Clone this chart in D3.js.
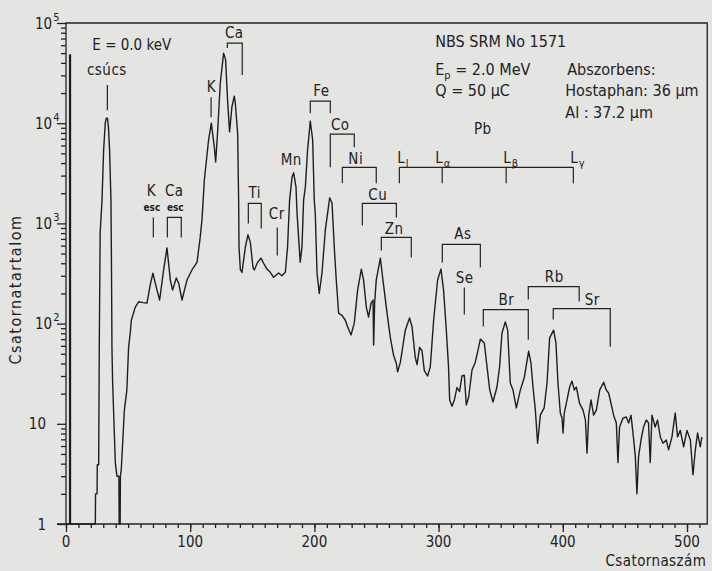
<!DOCTYPE html>
<html>
<head>
<meta charset="utf-8">
<script src="https://d3js.org/d3.v7.min.js"></script>
<style>
  body { margin: 0; background: #e4e4e2; }
  svg { display: block; font-family: "DejaVu Sans Condensed", "DejaVu Sans", sans-serif; }
  .lbl { font-size: 15px; fill: #222; }
  .small { font-size: 10px; font-weight: bold; fill: #222; }
  .axis path, .axis line { stroke: #222; stroke-width: 1.3; }
</style>
</head>
<body>
<script>
// ---------------------- DATA ----------------------

// spectrum: channel number and counts per channel
const channels = [
  0, 2.9, 2.9, 3.6, 3.6, 23.6, 23.8, 25, 25.2, 26.3, 26.8, 27.5, 29, 30.3, 31.6, 32.4, 33.4, 34.2, 35.1, 36.2,
  36.6, 37, 37.5, 39.7, 41, 42.6, 42.8, 43.6, 43.8, 44.5, 47, 49, 50.4, 51.8, 52.6, 55.8, 58.5, 62, 65.2, 68,
  70, 72.7, 75.4, 78.6, 81.3, 84, 85.8, 88.8, 90.7, 93.4, 97.4, 101.4, 104.1, 105.5, 108, 109.5, 111.4, 114.8, 117, 119.4,
  120.5, 122, 124.2, 126.9, 128.5, 130.1, 131.7, 133.6, 135.5, 136.3, 138.2, 139, 139.3, 140.4, 141.7, 144.4, 146.5, 148.4, 150.6, 151.6,
  154.3, 157, 159.1, 161.8, 164.5, 167.1, 169.3, 171.2, 173.9, 176.6, 178.4, 180, 182, 183.3, 185.2, 186, 187.3, 188.6, 190, 191.3,
  192.7, 194.5, 196.7, 198.6, 199.9, 200.7, 202.1, 203.9, 206.1, 208.8, 212.3, 214.2, 216, 217.6, 219.5, 222.2, 224.9, 226.7, 229.5, 232.1,
  234.8, 237.8, 239.6, 241.8, 243.6, 245.6, 247.2, 247.7, 248.5, 249.8, 253.1, 255.2, 258.5, 261.1, 263.8, 266, 267, 269.2, 273.2, 276.6,
  278.6, 281.2, 282.6, 284.7, 286.6, 288.5, 291.1, 293.3, 296, 299.2, 301.9, 304, 306.2, 308, 308.9, 310.8, 312.7, 314.8, 316.9, 318.8,
  320.7, 322.3, 324.2, 326.9, 329.5, 331.7, 333.6, 336.8, 339, 341.1, 343.8, 347, 349.1, 351, 353.7, 355.6, 357.7, 359.9, 362.6, 365.8,
  369, 372.5, 374.4, 376, 377.9, 379.7, 381.9, 385, 387.3, 389.4, 392.6, 394.5, 396.1, 398, 399.4, 400.2, 401.2, 403.4, 405.5, 407.4,
  409.3, 410.9, 413.5, 416.3, 418.2, 419.5, 420.9, 422.7, 424.8, 427, 429.7, 432.9, 435, 436.9, 438.8, 440.9, 443.1, 444.4, 445.7, 448.5,
  451.1, 453, 454.9, 457.1, 458.4, 459.7, 461, 463, 465, 467.2, 469, 470.4, 471.8, 474.4, 476.3, 478.5, 480.7, 483.3, 485.2, 487.9,
  490.5, 492.4, 494.6, 497.3, 500, 502.7, 504.8, 506.7, 508.5, 510.7, 512
];
const counts = [
  1, 1, 48000, 48000, 1, 1, 2, 2, 3.9, 3.9, 60, 800, 1700, 5400, 10000, 11200, 11200, 9000, 5400, 1700,
  400, 58, 27, 4.1, 3, 3, 1, 1, 3, 3.5, 13.7, 21.7, 58, 82, 108, 146, 165, 162, 160, 250,
  318, 230, 172, 343, 570, 272, 216, 285, 253, 172, 272, 343, 385, 410, 717, 1090, 2720, 6800, 10000, 5800,
  4100, 7900, 25000, 50000, 43000, 16800, 8200, 14600, 18600, 16000, 7900, 1700, 580, 343, 325, 580, 770, 650, 360, 343,
  410, 450, 400, 350, 325, 290, 305, 320, 300, 325, 580, 1700, 2900, 3200, 2300, 1270, 717, 410, 580, 1700,
  2300, 5400, 10500, 6800, 1700, 1270, 320, 200, 320, 860, 1800, 1600, 580, 272, 127, 121, 108, 93, 77, 101,
  216, 350, 272, 146, 116, 160, 172, 61, 160, 272, 450, 272, 127, 73, 48, 40, 33, 41, 86, 114,
  93, 46, 39, 58, 54, 34, 30, 37, 108, 272, 350, 216, 86, 37, 17.3, 15, 17.3, 23, 21, 30,
  30.5, 15.4, 18.5, 34.4, 41, 54, 70, 64, 37, 22, 16.5, 23.3, 37, 80, 104, 86, 25.5, 21.7, 14.4, 21.7,
  29, 53, 40, 23.3, 13.7, 6.4, 12.2, 14.4, 25.5, 72, 86, 64, 25.5, 12.8, 11.4, 8.1, 12.8, 17.3, 23.3, 26.7,
  21.7, 23.3, 16, 13.7, 10.9, 5.1, 12.2, 17.3, 12.2, 13.7, 21.7, 26, 21.7, 20.3, 16, 12.2, 10.2, 4.1, 9.3, 11.4,
  11.7, 10.2, 12.2, 6.9, 4.7, 2.0, 4.7, 6.9, 9.3, 10.9, 10.2, 4.1, 12.2, 9.3, 10.9, 7.4, 6.4, 6.9, 5.5, 7.4,
  12.8, 7.4, 8.6, 5.9, 8.6, 6.9, 3.1, 5.5, 8.1, 5.9, 7.4
];

const xTicks = d3.range(0, 511, 10);
const xMajorTicks = [0, 100, 200, 300, 400, 500];
const yMajorTicks = [1, 10, 100, 1000, 10000, 100000];
const yMinorTicks = d3.range(0, 5).flatMap(p => d3.range(2, 10).map(m => m * Math.pow(10, p)));

// ---------------------- SETUP ----------------------

const width = 712, height = 571;
const svg = d3.select("body").append("svg")
    .attr("width", width)
    .attr("height", height);

// channel 0 .. 500 measured on the paper
const x = d3.scaleLinear().domain([0, 500]).range([66, 687]);
const y = d3.scaleLog().domain([1, 1e5]).range([524, 23]);
const xMax = 516.3;
const e = v => y(Math.pow(10, v));   // position from a decade exponent

// ---------------------- AXES ----------------------

svg.append("g").attr("class", "axis")
    .attr("transform", `translate(0,${y(1)})`)
    .call(d3.axisBottom(x).tickValues(xTicks).tickSize(4).tickSizeOuter(0).tickFormat(""))
    .call(g => g.select(".domain").remove());
svg.append("g").attr("class", "axis")
    .attr("transform", `translate(0,${y(1)})`)
    .call(d3.axisBottom(x).tickValues(xMajorTicks).tickSize(8).tickSizeOuter(0).tickFormat(""))
    .call(g => g.select(".domain").remove());

svg.append("g").attr("class", "axis")
    .attr("transform", `translate(${x(0)},0)`)
    .call(d3.axisLeft(y).tickValues(yMinorTicks).tickSize(5).tickSizeOuter(0).tickFormat(""))
    .call(g => g.select(".domain").remove());
svg.append("g").attr("class", "axis")
    .attr("transform", `translate(${x(0)},0)`)
    .call(d3.axisLeft(y).tickValues(yMajorTicks).tickSize(9).tickSizeOuter(0).tickFormat(""))
    .call(g => g.select(".domain").remove());

// frame
svg.append("path")
    .attr("d", `M${x(0)},${y(1)}V${y(1e5)}H${x(xMax)}V${y(1)}H${x(0) - 9}`)
    .attr("fill", "none")
    .attr("stroke", "#222")
    .attr("stroke-width", 1.3);

// tick labels
svg.selectAll(".xlab")
    .data(xMajorTicks)
    .enter().append("text")
    .attr("class", "lbl")
    .attr("x", d => x(d))
    .attr("y", y(1) + 23)
    .attr("text-anchor", "middle")
    .text(d => d);

svg.selectAll(".ylab")
    .data(yMajorTicks)
    .enter().append("text")
    .attr("class", "lbl")
    .attr("x", d => d < 100 ? x(0) - 20 : x(0) - 31)
    .attr("y", d => y(d) + 5.5)
    .attr("text-anchor", d => d < 100 ? "end" : "start")
    .each(function (d) {
        const t = d3.select(this);
        const p = Math.round(Math.log10(d));
        if (p < 2) {
            t.text(d);
        } else {
            t.append("tspan").text("10");
            t.append("tspan").attr("dy", -8).style("font-size", "11px").attr("dx", 1).text(p);
        }
    });

svg.append("text")
    .attr("class", "lbl")
    .attr("x", x(xMax) - 1)
    .attr("y", 566)
    .attr("text-anchor", "end")
    .style("letter-spacing", "0.4px")
    .text("Csatornaszám");

svg.append("text")
    .attr("class", "lbl")
    .attr("transform", `translate(21,${e(2.34)}) rotate(-90)`)
    .attr("text-anchor", "middle")
    .style("font-size", "16px")
    .style("letter-spacing", "1.5px")
    .text("Csatornatartalom");

// ---------------------- SPECTRUM ----------------------

const spectrum = channels.map((c, i) => [c, counts[i]]);
svg.append("path")
    .datum(spectrum)
    .attr("fill", "none")
    .attr("stroke", "#1e1e1e")
    .attr("stroke-width", 1.4)
    .attr("stroke-linejoin", "round")
    .attr("d", d3.line().x(d => x(d[0])).y(d => y(d[1])));

// ---------------------- ANNOTATIONS ----------------------

// element labels: text, channel, decade exponent
const labels = [
    ["csúcs", 32.9, 4.53], ["K", 117, 4.37], ["Ca", 135.5, 4.90], ["Fe", 205.6, 4.33],
    ["Mn", 181.4, 3.64], ["Co", 220.8, 3.99], ["Ni", 233.3, 3.65], ["Cu", 251, 3.29],
    ["Zn", 264.3, 2.95], ["Ti", 152, 3.31], ["Cr", 169.7, 3.10], ["K", 68.7, 3.33],
    ["Ca", 87.2, 3.33], ["Pb", 335.6, 3.95], ["As", 319.5, 2.90], ["Se", 321, 2.46],
    ["Br", 354.5, 2.24], ["Rb", 393.1, 2.47], ["Sr", 423.8, 2.24]
];
svg.selectAll(".elab")
    .data(labels)
    .enter().append("text")
    .attr("class", "lbl")
    .attr("x", d => x(d[1]))
    .attr("y", d => e(d[2]))
    .attr("dy", "0.36em")
    .attr("text-anchor", "middle")
    .style("letter-spacing", "0.5px")
    .text(d => d[0]);

[[69.1, 3.16], [88, 3.16]].forEach(p => {
    svg.append("text").attr("class", "small")
        .attr("x", x(p[0])).attr("y", e(p[1])).attr("dy", "0.36em")
        .attr("text-anchor", "middle").text("esc");
});

// brackets: left channel, right channel, top, left leg end, right leg end
const brackets = [
    [129.9, 141.9, 4.80, 4.75, 4.48], [196.7, 212.8, 4.22, 4.10, 4.10],
    [212.8, 232.1, 3.89, 3.56, 3.76], [222.5, 249.8, 3.56, 3.40, 3.40],
    [238.6, 266, 3.20, 2.98, 3.06], [253.9, 278, 2.86, 2.73, 2.66],
    [146.8, 157.2, 3.20, 3.00, 2.95], [81.6, 92.8, 3.06, 2.86, 2.86],
    [303, 333.6, 2.79, 2.61, 2.56], [336, 372.2, 2.14, 1.97, 1.84],
    [372.2, 413.2, 2.37, 2.24, 2.22], [392.3, 438.2, 2.15, 2.04, 1.77]
];
const single = [[33.3, 4.38, 4.13], [116.8, 4.26, 4.06], [170.1, 2.96, 2.68], [70.3, 3.06, 2.86], [320.7, 2.36, 2.09]];

const ann = svg.append("g").attr("fill", "none").attr("stroke", "#222").attr("stroke-width", 1.2);
ann.selectAll(".br")
    .data(brackets)
    .enter().append("path")
    .attr("d", d => `M${x(d[0])},${e(d[3])}V${e(d[2])}H${x(d[1])}V${e(d[4])}`);
ann.selectAll(".sg")
    .data(single)
    .enter().append("path")
    .attr("d", d => `M${x(d[0])},${e(d[1])}V${e(d[2])}`);

// Pb L lines
const pbLegs = [268.4, 302.9, 354.4, 408.5];
ann.append("path").attr("d", `M${x(pbLegs[0])},${e(3.56)}H${x(pbLegs[3])}`);
ann.selectAll(".pb")
    .data(pbLegs)
    .enter().append("path")
    .attr("d", d => `M${x(d)},${e(3.56)}V${e(3.40)}`);

const pbNames = [["l", 266.7], ["α", 297.3], ["β", 352.1], ["γ", 406]];
pbNames.forEach(p => {
    const t = svg.append("text").attr("class", "lbl")
        .attr("x", x(p[1])).attr("y", e(3.66)).attr("dy", "0.36em");
    t.append("tspan").text("L");
    t.append("tspan").attr("dy", 4).attr("dx", 1).style("font-size", "11px").text(p[0]);
});

// ---------------------- INFO TEXT ----------------------

svg.append("text").attr("class", "lbl").attr("x", x(21.2)).attr("y", e(4.78)).attr("dy", "0.36em")
    .text("E = 0.0 keV");

const info = svg.append("g").attr("class", "lbl").style("font-size", "16px");
info.append("text").attr("x", x(297.3)).attr("y", e(4.82)).attr("dy", "0.36em").text("NBS SRM No 1571");
const ep = info.append("text").attr("x", x(297.3)).attr("y", e(4.54)).attr("dy", "0.36em");
ep.append("tspan").text("E");
ep.append("tspan").attr("dy", 4).style("font-size", "11px").text("p");
ep.append("tspan").attr("dy", -4).text(" = 2.0 MeV");
info.append("text").attr("x", x(297.3)).attr("y", e(4.33)).attr("dy", "0.36em").text("Q = 50 μC");
info.append("text").attr("x", x(403.6)).attr("y", e(4.54)).attr("dy", "0.36em").text("Abszorbens:");
info.append("text").attr("x", x(402)).attr("y", e(4.33)).attr("dy", "0.36em").text("Hostaphan: 36 μm");
info.append("text").attr("x", x(402)).attr("y", e(4.11)).attr("dy", "0.36em").text("Al : 37.2 μm");
</script>
</body>
</html>
